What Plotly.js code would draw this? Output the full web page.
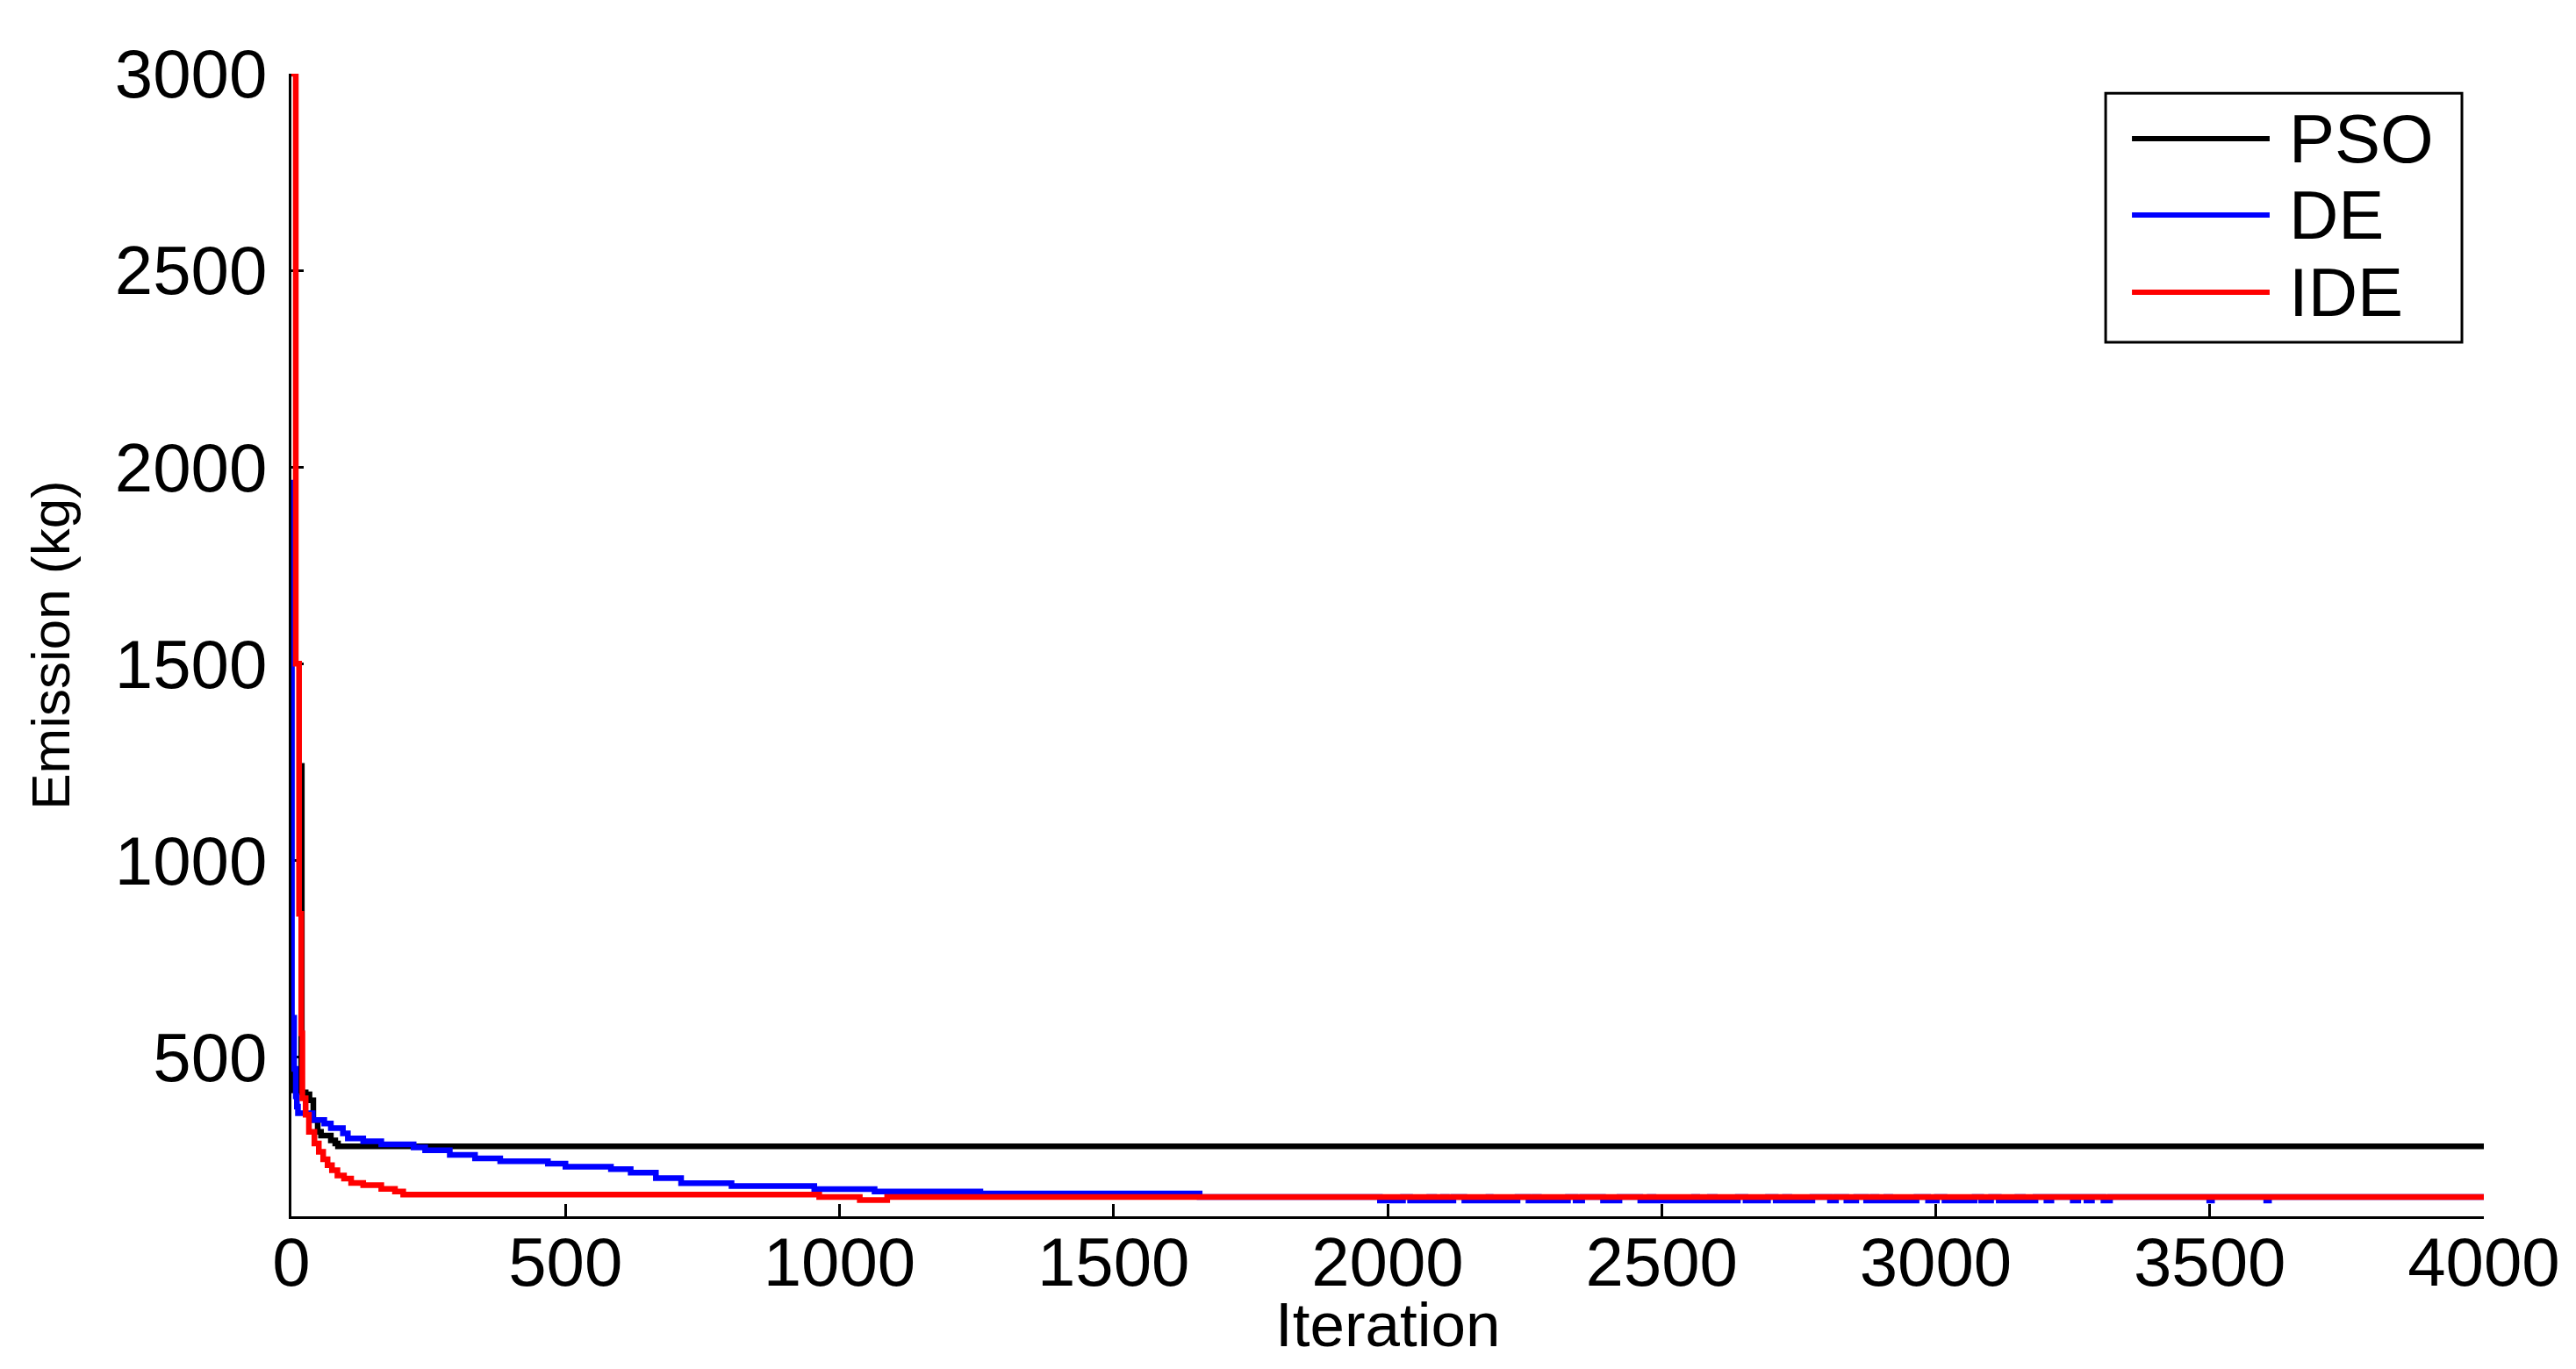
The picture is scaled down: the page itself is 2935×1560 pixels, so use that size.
<!DOCTYPE html>
<html>
<head>
<meta charset="utf-8">
<script src="https://cdn.plot.ly/plotly-3.0.1.min.js"></script>
<style>
  html, body { margin: 0; padding: 0; background: #fff; }
  #chart { width: 2935px; height: 1560px; }
</style>
</head>
<body>
<div id="chart"></div>
<script>
// best emission per iteration
const psoIter = [0, 4, 17, 18, 19, 26, 33, 40, 48, 54, 72, 80, 85, 4000];
const psoEmission = [460, 415, 410, 1240, 410, 405, 390, 340, 310, 300, 288, 280, 273, 273];

const deIter = [0, 1, 5, 8, 10, 12, 39, 60, 72, 94, 103, 131, 164, 223, 244, 289, 335, 381, 468, 500, 583, 619, 665, 711, 803, 954, 1064, 1257, 1657,
    1986, 2028, 2041, 2076, 2085, 2101, 2108, 2120, 2140, 2184, 2188, 2237, 2257, 2268, 2276, 2329, 2343, 2355,
    2393, 2423, 2461, 2478, 2485, 2559, 2565, 2588, 2597, 2639, 2653, 2694, 2708, 2725, 2733, 2775,
    2807, 2818, 2837, 2855, 2873, 2885, 2892, 2910, 2917, 2965, 2986, 3002, 3016, 3071, 3083, 3101,
    3115, 3149, 3159, 3182, 3202, 3211, 3250, 3260, 3275, 3285, 3306, 3318, 3499, 3504, 3603, 3608, 4000];
const deEmission = [1960, 600, 470, 400, 374, 357, 340, 331, 319, 306, 293, 286, 278, 270, 263, 251, 242, 235, 229, 221, 215, 206, 192, 179, 172, 164, 158, 153, 144,
    135, 144, 135, 144, 135, 144, 135, 144, 135, 144, 135, 144, 135, 144, 135, 144, 135, 144,
    135, 144, 135, 144, 135, 144, 135, 144, 135, 144, 135, 144, 135, 144, 135, 144,
    135, 144, 135, 144, 135, 144, 135, 144, 135, 144, 135, 144, 135, 144, 135, 144,
    135, 144, 135, 144, 135, 144, 135, 144, 135, 144, 135, 144, 135, 144, 135, 144, 144];

const ideIter = [0, 8, 14, 18, 20, 26, 32, 42, 50, 58, 66, 74, 84, 96, 109, 131, 164, 189, 204, 963, 1037, 1087, 4000];
const ideEmission = [3000, 1500, 864, 560, 395, 353, 310, 280, 259, 240, 225, 212, 199, 191, 180, 174, 165, 158, 150, 144, 136, 144, 144];

const seriesNames = ['PSO', 'DE', 'IDE'];
const seriesColors = ['#000000', '#0000ff', '#ff0000'];

const xTicks = [0, 500, 1000, 1500, 2000, 2500, 3000, 3500, 4000];
const yTicks = [500, 1000, 1500, 2000, 2500, 3000];

const fontFamily = '"Liberation Sans", Arial, sans-serif';

var xs = [psoIter, deIter, ideIter];
var ys = [psoEmission, deEmission, ideEmission];
var data = [];
seriesNames.forEach((name, i) => {
    data.push({
        x: xs[i],
        y: ys[i],
        type: 'scatter',
        mode: 'lines',
        name: name,
        line: { color: seriesColors[i], width: 6.5, shape: 'hv' },
        showlegend: false
    });
});

// hand-drawn legend box, MATLAB style (long line samples)
var legX0 = 0.8275, legX1 = 0.990, legY0 = 0.765, legY1 = 0.983;
var rowY = [0.9432, 0.8763, 0.8088];
var shapes = [{
    type: 'rect', xref: 'paper', yref: 'paper',
    x0: legX0, x1: legX1, y0: legY0, y1: legY1,
    line: { color: '#000', width: 3 }, fillcolor: '#fff', layer: 'above'
}];
var annotations = [];
seriesNames.forEach((name, i) => {
    shapes.push({
        type: 'line', xref: 'paper', yref: 'paper',
        x0: 0.8395, x1: 0.9023, y0: rowY[i], y1: rowY[i],
        line: { color: seriesColors[i], width: 6 }, layer: 'above'
    });
    annotations.push({
        xref: 'paper', yref: 'paper', x: 0.9103, y: rowY[i],
        xanchor: 'left', yanchor: 'middle', showarrow: false,
        text: name, font: { family: fontFamily, size: 78, color: '#000' }
    });
});

// x axis title as an annotation so it can sit tight under the tick labels
annotations.push({
    xref: 'paper', yref: 'paper', x: 0.5, y: 0,
    xanchor: 'center', yanchor: 'middle', yshift: -123, showarrow: false,
    text: 'Iteration', font: { family: fontFamily, size: 71, color: '#000' }
});

const layout = {
    width: 2935,
    height: 1560,
    margin: { l: 332, r: 105, t: 84, b: 174 },
    paper_bgcolor: '#fff',
    plot_bgcolor: '#fff',
    font: { family: fontFamily, color: '#000' },
    showlegend: false,
    xaxis: {
        range: [0, 4000],
        tickvals: xTicks,
        ticks: 'inside',
        ticklen: 14,
        tickwidth: 3,
        tickcolor: '#000',
        showline: true,
        linecolor: '#000',
        linewidth: 3,
        mirror: false,
        showgrid: false,
        zeroline: false,
        layer: 'below traces',
        ticklabelstandoff: -18,
        tickfont: { family: fontFamily, size: 78, color: '#000' }
    },
    yaxis: {
        range: [95, 3000],
        tickvals: yTicks,
        ticks: 'inside',
        ticklen: 14,
        tickwidth: 3,
        tickcolor: '#000',
        showline: true,
        linecolor: '#000',
        linewidth: 3,
        mirror: false,
        showgrid: false,
        zeroline: false,
        layer: 'below traces',
        ticklabelstandoff: 9,
        tickfont: { family: fontFamily, size: 78, color: '#000' },
        title: {
            text: 'Emission (kg)',
            standoff: 32,
            font: { family: fontFamily, size: 62, color: '#000' }
        }
    },
    shapes: shapes,
    annotations: annotations
};

Plotly.newPlot('chart', data, layout, { staticPlot: true });
</script>
</body>
</html>
